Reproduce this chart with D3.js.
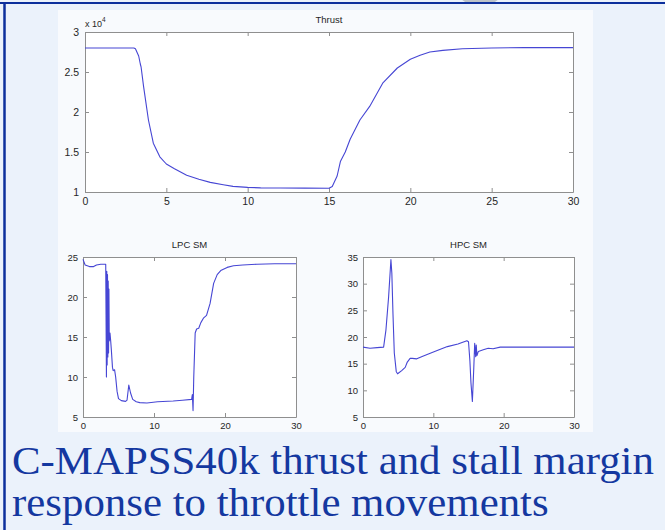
<!DOCTYPE html>
<html>
<head>
<meta charset="utf-8">
<script src="https://cdn.jsdelivr.net/npm/d3@7"></script>
<style>
  html, body { margin: 0; padding: 0; background: #ebf2fb; }
  svg { display: block; }
  .tick text { font-family: "Liberation Sans", Arial, sans-serif; fill: #262626; }
</style>
</head>
<body>
<svg id="chart" width="665" height="530"></svg>
<script>
// thrust (x 10^4) vs time
const thrustTime = [0, 1, 2, 3, 3.1, 3.3, 3.4, 3.45, 3.6, 3.9, 4.2, 4.6, 5.0, 5.5, 6.25, 7, 7.7, 8.5, 9.1, 10, 10.8, 12, 13.5, 15,
  15.2, 15.5, 15.7, 16, 16.3, 16.9, 17.5, 18.3, 19.2, 20, 20.6, 21.2, 22, 23.2, 25, 27, 30];
const thrustValue = [2.8, 2.8, 2.8, 2.8, 2.79, 2.7, 2.6, 2.56, 2.32, 1.9, 1.61, 1.44, 1.35, 1.29, 1.21, 1.16, 1.12, 1.09, 1.07, 1.058, 1.052, 1.05, 1.048, 1.047,
  1.07, 1.2, 1.38, 1.5, 1.66, 1.9, 2.07, 2.36, 2.55, 2.66, 2.71, 2.75, 2.77, 2.79, 2.8, 2.805, 2.805];

// LPC stall margin
const lpcTime = [0, 0.3, 0.9, 1.5, 1.9, 2.5, 3.2, 3.3, 3.35, 3.4, 3.45, 3.5, 3.55, 3.6, 3.65, 3.7, 3.8, 3.9, 4.0, 4.15, 4.25, 4.45, 4.6, 4.8, 5.0,
  5.4, 6.0, 6.2, 6.45, 6.7, 7.0, 7.5, 8.0, 9.0, 10.5, 12.7, 14, 15.3, 15.4, 15.5, 15.6, 15.8, 16.0, 16.3, 16.6, 17.0, 17.4, 17.9,
  18.4, 18.9, 19.4, 20.3, 21.2, 22.5, 24.5, 27, 30];
const lpcValue = [24.7, 24.0, 23.8, 23.8, 24.0, 24.1, 24.1, 10.0, 23.2, 11.5, 22.8, 12.5, 22.0, 13.0, 21.0, 14.5, 15.5, 14.5, 13.3, 11.2, 10.8, 10.9, 10.0, 8.2, 7.3,
  7.05, 6.95, 7.1, 9.0, 8.0, 7.2, 6.9, 6.8, 6.75, 6.9, 7.0, 7.1, 7.2, 7.8, 5.8, 10, 15.5, 16.0, 16.1, 16.8, 17.4, 17.7, 19.2,
  21.7, 22.8, 23.3, 23.7, 23.9, 24.0, 24.1, 24.15, 24.15];

// HPC stall margin
const hpcTime = [0, 1, 2, 2.93, 3.26, 3.64, 3.97, 4.1, 4.26, 4.45, 4.73, 4.92, 5.5, 6.0, 6.3, 6.7, 7.0, 7.65, 8.5, 9.65, 11, 12, 13.5, 14.77,
  15.0, 15.2, 15.35, 15.55, 15.74, 15.88, 16.02, 16.1, 16.2, 16.4, 17.1, 17.8, 18.5, 19.5, 22, 25, 30];
const hpcValue = [18.1, 17.9, 18.0, 18.1, 21.3, 27.5, 34.5, 32, 24.4, 17, 13.5, 13.1, 13.7, 14.3, 15.3, 16.0, 16.0, 15.9, 16.4, 17.0, 17.7, 18.2, 18.7, 19.3,
  19.1, 15.5, 11.4, 7.9, 13.8, 18.8, 16.3, 18.5, 16.5, 17.3, 17.6, 17.9, 17.8, 18.1, 18.1, 18.1, 18.1];

const thrustXTicks = [0, 5, 10, 15, 20, 25, 30];
const thrustYTicks = [1, 1.5, 2, 2.5, 3];
const smXTicks = [0, 10, 20, 30];
const lpcYTicks = [5, 10, 15, 20, 25];
const hpcYTicks = [5, 10, 15, 20, 25, 30, 35];

const captionLines = ['C-MAPSS40k thrust and stall margin', 'response to throttle movements'];

const svg = d3.select('#chart');
const W = 665, H = 530;
const lineColor = '#4646d4';
const boxColor = '#8f8f8f';

// slide background
svg.append('rect').attr('width', W).attr('height', H).attr('fill', '#ebf2fb');
svg.append('ellipse').attr('cx', 480).attr('cy', -1).attr('rx', 18).attr('ry', 5)
  .attr('fill', '#9aa0a8').attr('opacity', 0.6);
svg.append('line').attr('x1', 0).attr('x2', W).attr('y1', 3).attr('y2', 3)
  .attr('stroke', '#0c2f9c').attr('stroke-width', 2);
svg.append('line').attr('x1', 4.5).attr('x2', 4.5).attr('y1', 2).attr('y2', H)
  .attr('stroke', '#0c2f9c').attr('stroke-width', 2.5);

// figure area
svg.append('rect').attr('x', 58).attr('y', 10).attr('width', 535).attr('height', 422)
  .attr('fill', '#f8fafd');

function drawPanel(p) {
  const x = d3.scaleLinear().domain([0, 30]).range([p.left, p.right]);
  const y = d3.scaleLinear().domain(p.yDomain).range([p.bottom, p.top]);

  svg.append('rect').attr('x', p.left).attr('y', p.top)
    .attr('width', p.right - p.left).attr('height', p.bottom - p.top).attr('fill', '#fff');

  const fmt = d3.format('~g');
  const axes = [
    { g: d3.axisBottom(x).tickValues(p.xTicks).tickFormat(fmt), t: `translate(0,${p.bottom})`, labels: true },
    { g: d3.axisTop(x).tickValues(p.xTicks), t: `translate(0,${p.top})`, labels: false },
    { g: d3.axisLeft(y).tickValues(p.yTicks).tickFormat(fmt), t: `translate(${p.left},0)`, labels: true },
    { g: d3.axisRight(y).tickValues(p.yTicks), t: `translate(${p.right},0)`, labels: false }
  ];
  axes.forEach(a => {
    const g = svg.append('g').attr('transform', a.t)
      .call(a.g.tickSizeInner(-4).tickSizeOuter(0).tickPadding(p.pad));
    g.select('.domain').attr('stroke', boxColor);
    g.selectAll('.tick line').attr('stroke', boxColor);
    g.selectAll('.tick text').style('font-size', p.fontSize + 'px');
    if (!a.labels) g.selectAll('.tick text').remove();
  });

  const line = d3.line().x(d => x(d[0])).y(d => y(d[1]));
  svg.append('path')
    .datum(d3.zip(p.time, p.value))
    .attr('d', line)
    .attr('fill', 'none')
    .attr('stroke', lineColor)
    .attr('stroke-width', 1.1)
    .attr('stroke-linejoin', 'round');

  svg.append('text')
    .attr('x', (p.left + p.right) / 2).attr('y', p.top - 9)
    .attr('text-anchor', 'middle')
    .style('font-family', '"Liberation Sans", Arial, sans-serif')
    .style('font-size', '9.5px').attr('fill', '#262626')
    .text(p.title);
}

drawPanel({ title: 'Thrust', left: 85, right: 573, top: 32, bottom: 192, yDomain: [1, 3],
  xTicks: thrustXTicks, yTicks: thrustYTicks, time: thrustTime, value: thrustValue, fontSize: 10.5, pad: 6 });
drawPanel({ title: 'LPC SM', left: 83, right: 296, top: 257, bottom: 417, yDomain: [5, 25],
  xTicks: smXTicks, yTicks: lpcYTicks, time: lpcTime, value: lpcValue, fontSize: 9.5, pad: 5 });
drawPanel({ title: 'HPC SM', left: 363, right: 574, top: 257, bottom: 417, yDomain: [5, 35],
  xTicks: smXTicks, yTicks: hpcYTicks, time: hpcTime, value: hpcValue, fontSize: 9.5, pad: 5 });

// exponent label on the thrust axis
const expo = svg.append('text').attr('x', 85).attr('y', 26.5)
  .style('font-family', '"Liberation Sans", Arial, sans-serif')
  .style('font-size', '9px').attr('fill', '#262626');
expo.append('tspan').text('x 10');
expo.append('tspan').attr('dy', -4.5).style('font-size', '6.5px').text('4');

// caption, stretched slightly wider like the slide's font
svg.selectAll('.caption').data(captionLines).enter().append('text')
  .attr('class', 'caption')
  .attr('x', 12)
  .attr('y', (d, i) => 474 + i * 42)
  .style('font-family', '"Liberation Serif", "Times New Roman", serif')
  .style('font-size', '41px')
  .attr('fill', '#1438a0')
  .text(d => d)
  .each(function () {
    const w = this.getComputedTextLength();
    d3.select(this).attr('textLength', w * 1.045).attr('lengthAdjust', 'spacingAndGlyphs');
  });
</script>
</body>
</html>
